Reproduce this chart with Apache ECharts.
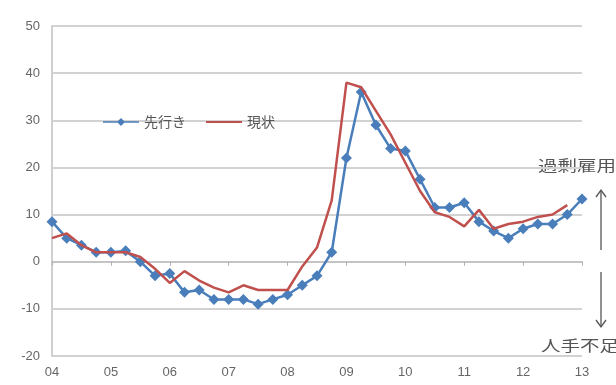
<!DOCTYPE html>
<html>
<head>
<meta charset="utf-8">
<script src="https://cdn.jsdelivr.net/npm/echarts@6/dist/echarts.min.js"></script>
<style>
  html, body { margin: 0; padding: 0; background: #fff; }
  #chart { width: 616px; height: 385px; }
</style>
</head>
<body>
<div id="chart"></div>
<script>
// Survey years (two-digit) and quarterly readings
const years = ['04', '05', '06', '07', '08', '09', '10', '11', '12', '13'];
const quarterNames = ['Q1', 'Q2', 'Q3', 'Q4'];

// 先行き (outlook) — 04Q1 .. 13Q1
const outlook = [8.5, 5, 3.5, 2, 2, 2.3, 0, -3, -2.5, -6.5, -6, -8, -8, -8, -9, -8, -7, -5, -3, 2,
                 22, 36, 29, 24, 23.5, 17.5, 11.5, 11.5, 12.5, 8.5, 6.5, 5, 7, 8, 8, 10, 13.3];
// 現状 (current) — 04Q1 .. 12Q4
const current = [5, 6, 3.5, 2, 2, 2, 1, -1.5, -4.5, -2, -4, -5.5, -6.5, -5, -6, -6, -6, -1, 3, 13,
                 38, 37, 32, 27, 21, 15, 10.5, 9.5, 7.5, 11, 7, 8, 8.5, 9.5, 10, 12];

const yTicks = { min: -20, max: 50, step: 10 };

// Quarter categories: every year gets four, last year only its first quarter
const categories = [];
years.forEach((y, i) => {
  const n = i === years.length - 1 ? 1 : 4;
  for (let q = 0; q < n; q++) categories.push(y + quarterNames[q]);
});

const textFont = '"Liberation Sans", "Noto Sans CJK JP", sans-serif';
const jpFont = '"Noto Sans CJK JP", sans-serif';

const chart = echarts.init(document.getElementById('chart'), null, { renderer: 'canvas' });

chart.setOption({
  animation: false,
  backgroundColor: '#ffffff',
  grid: { left: 52, right: 34, top: 26, bottom: 29 },
  legend: {
    left: 98, top: 110,
    itemWidth: 36, itemHeight: 8, itemGap: 20,
    textStyle: { fontFamily: jpFont, fontSize: 14, color: '#555' },
    data: [
      { name: '先行き', icon: 'path://M0,3.2 L36,3.2 L36,4.8 L0,4.8 Z M18,0 L22,4 L18,8 L14,4 Z' },
      { name: '現状', icon: 'path://M0,3 L36,3 L36,5 L0,5 Z' }
    ]
  },
  xAxis: [
    {
      // axis line and year ticks drawn across the zero line
      type: 'category', data: categories, boundaryGap: false,
      axisLine: { show: true, onZero: true, lineStyle: { color: '#c4c4c4', width: 2 } },
      axisTick: { show: true, interval: 3, length: 4, lineStyle: { color: '#b0b0b0', width: 1 } },
      axisLabel: { show: false },
      splitLine: { show: false }
    },
    {
      // year labels along the bottom edge
      type: 'category', data: categories, boundaryGap: false, position: 'bottom',
      axisLine: { show: false }, axisTick: { show: false },
      splitLine: { show: false },
      axisLabel: {
        show: true, interval: 3, margin: 10,
        fontFamily: textFont, fontSize: 13, color: '#666',
        formatter: v => v.slice(0, 2)
      }
    }
  ],
  yAxis: {
    type: 'value', min: yTicks.min, max: yTicks.max, interval: yTicks.step,
    axisLine: { show: true, lineStyle: { color: '#cfcfcf', width: 2 } },
    axisTick: { show: false },
    axisLabel: { margin: 12, fontFamily: textFont, fontSize: 13, color: '#666' },
    splitLine: { show: true, lineStyle: { color: '#d2d2d2', width: 2 } }
  },
  series: [
    {
      name: '先行き', type: 'line', data: outlook,
      xAxisIndex: 0,
      symbol: 'diamond', symbolSize: 11, showSymbol: true, showAllSymbol: true,
      itemStyle: { color: '#4a7ebb' },
      lineStyle: { color: '#4a7ebb', width: 2.5 },
      z: 2
    },
    {
      name: '現状', type: 'line', data: current,
      xAxisIndex: 0,
      symbol: 'none',
      itemStyle: { color: '#c0504d' },
      lineStyle: { color: '#c0504d', width: 2.5 },
      z: 3
    }
  ],
  graphic: [
    {
      type: 'text', x: 538, y: 158, scaleX: 1.3,
      style: { text: '過剰雇用', fontFamily: jpFont, fontSize: 15, fill: '#555' }
    },
    {
      type: 'text', x: 541, y: 338, scaleX: 1.3,
      style: { text: '人手不足', fontFamily: jpFont, fontSize: 15, fill: '#555' }
    },
    // upward arrow
    { type: 'polyline', shape: { points: [[601, 250], [601, 190]] }, style: { stroke: '#555', lineWidth: 1.3 } },
    { type: 'polyline', shape: { points: [[596, 197], [601, 190], [606, 197]] }, style: { stroke: '#555', lineWidth: 1.3, fill: null } },
    // downward arrow
    { type: 'polyline', shape: { points: [[601, 272], [601, 327]] }, style: { stroke: '#555', lineWidth: 1.3 } },
    { type: 'polyline', shape: { points: [[596, 320], [601, 327], [606, 320]] }, style: { stroke: '#555', lineWidth: 1.3, fill: null } }
  ]
});
</script>
</body>
</html>
